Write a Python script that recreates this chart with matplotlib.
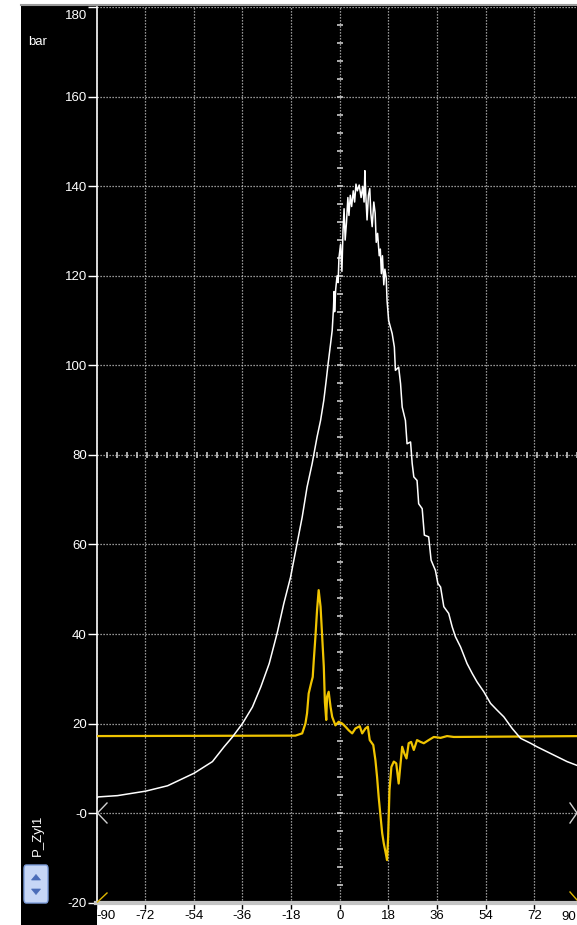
import matplotlib
matplotlib.use('Agg')
import matplotlib.pyplot as plt
import numpy as np
from matplotlib.patches import Rectangle, FancyBboxPatch, Polygon
from matplotlib.lines import Line2D

# ---------------- data ----------------
white_x = [-90, -89.5, -82.2, -71.8, -63.7, -53.9, -47.1, -42.8, -39.7, -36.0, -32.3, -29.2, -26.1,
           -23.2, -20.7, -18.2, -15.8, -13.9, -12.1, -10.2, -8.4, -7.1, -5.9, -5.0, -4.3, -3.4,
           -2.8, -2.3, -2.1, -1.9, -1.5, -1.0, -0.6, -0.3, 0.3, 0.8, 1.2, 1.6, 2.0, 2.5, 3.0, 3.4,
           3.9, 4.4, 5.0, 5.5, 6.0, 6.5, 7.2, 7.9, 8.5, 9.0, 9.3, 9.6, 10.1, 10.6, 11.1, 11.5, 12.0,
           12.6, 13.1, 13.5, 14.0, 14.6, 15.0, 15.4, 15.8, 16.3, 16.7, 17.2, 17.5, 18.1, 19.4, 20.2,
           20.6, 21.8, 22.5, 23.1, 24.3, 24.9, 26.2, 26.8, 27.4, 28.6, 29.2, 30.5, 31.3, 32.9, 33.8,
           35.4, 36.3, 37.3, 38.5, 40.3, 41.6, 42.8, 44.7, 47.1, 49.0, 50.8, 53.3, 55.8, 58.2, 60.7,
           63.8, 66.9, 70.6, 73.0, 76.7, 80.4, 84.1, 88.0]
white_y = [3.1, 3.6, 3.9, 4.9, 6.1, 8.9, 11.5, 14.8, 17.0, 20.0, 23.7, 28.2, 33.4,
           40.1, 46.8, 52.7, 60.2, 66.1, 72.8, 78.1, 84.0, 87.7, 92.2, 96.7, 100.4, 104.8,
           107.8, 113.0, 116.5, 112.0, 117.0, 120.0, 118.5, 124.0, 127.0, 121.0, 130.0, 135.0, 128.0,
           132.0, 137.5, 133.5, 138.0, 135.5, 139.0, 136.5, 140.5, 139.0, 140.3, 137.5, 140.0, 136.5,
           143.5, 138.5, 132.5, 138.0, 139.5, 134.0, 131.0, 136.5, 134.0, 127.5, 129.5, 124.5, 126.0,
           120.5, 124.5, 118.0, 121.5, 119.5, 114.5, 110.0, 107.1, 104.1, 98.9, 99.6, 95.9, 90.7,
           87.7, 82.5, 82.9, 78.1, 75.1, 74.3, 69.1, 68.0, 62.1, 61.7, 56.5, 54.2, 51.3, 50.5, 46.1,
           44.6, 41.6, 39.4, 37.1, 33.4, 31.2, 29.3, 27.1, 24.5, 23.0, 21.5, 18.9, 16.7, 15.6, 14.8,
           13.7, 12.6, 11.5, 10.6]

yellow_x = [-90, -16.4, -13.9, -12.7, -12.1, -11.5, -10.6, -10.0, -9.6, -9.0, -8.4, -7.8, -7.1,
            -6.5, -5.9, -5.5, -5.0, -4.7, -4.1, -3.4, -2.8, -1.6, -0.4, 0.9, 2.1, 3.3, 4.6, 5.8,
            7.4, 8.3, 9.5, 10.4, 11.1, 12.4, 13.2, 13.8, 14.4, 15.1, 15.7, 16.3, 16.9, 17.5, 17.9,
            18.4, 19.1, 20.0, 20.9, 21.8, 22.5, 23.1, 23.9, 24.7, 25.5, 26.4, 27.4, 28.6, 29.9,
            31.1, 32.9, 34.8, 37.3, 39.7, 42.2, 90]
yellow_y = [17.2, 17.3, 17.8, 20.0, 22.3, 26.7, 29.0, 30.4, 34.2, 39.4, 45.3, 49.8, 46.1,
            39.4, 32.7, 24.8, 20.8, 26.0, 27.1, 23.7, 21.5, 19.6, 20.4, 20.0, 19.3, 18.5, 17.8, 18.9,
            19.4, 17.8, 18.9, 19.3, 16.3, 15.2, 11.8, 8.1, 3.6, -0.8, -4.5, -6.8, -8.6, -10.5, -5.3,
            5.1, 10.3, 11.5, 11.1, 6.6, 11.1, 14.8, 13.3, 12.2, 15.6, 15.9, 14.1, 16.3, 15.9,
            15.6, 16.3, 17.0, 16.8, 17.2, 17.0, 17.2]

x_ticks = [-90, -72, -54, -36, -18, 0, 18, 36, 54, 72, 90]
x_labels = ['-90', '-72', '-54', '-36', '-18', '0', '18', '36', '54', '72', '']
y_ticks = [-20, 0, 20, 40, 60, 80, 100, 120, 140, 160, 180]
y_labels = ['-20', '-0', '20', '40', '60', '80', '100', '120', '140', '160', '']

# ---------------- figure ----------------
W, H = 577, 925
FONT = ['Liberation Sans Narrow', 'Liberation Sans', 'DejaVu Sans']
plt.rcParams['font.family'] = FONT

fig = plt.figure(figsize=(W / 100, H / 100), dpi=100, facecolor='white')


def fx(x):
    return x / W


def fy(y):
    return 1 - y / H


# black panel
fig.patches.append(Rectangle((fx(21), 0), 1 - fx(21), fy(5.5), transform=fig.transFigure,
                             facecolor='black', edgecolor='none', zorder=-3))
# white strip under x axis
fig.patches.append(Rectangle((fx(97), 0), 1 - fx(97), fy(903), transform=fig.transFigure,
                             facecolor='white', edgecolor='none', zorder=-2))
fig.add_artist(Line2D([fx(21), 1], [fy(5), fy(5)], color='#9a9a9a', lw=1.5,
                      transform=fig.transFigure))

ax = fig.add_axes([fx(96.5), fy(902.6), (583 - 96.5) / W, (902.6 - 7.3) / H])
ax.set_facecolor('black')
ax.set_xlim(-90, 90)
ax.set_ylim(-20, 180)

for s in ['top', 'right']:
    ax.spines[s].set_visible(False)
ax.spines['left'].set_color('white')
ax.spines['left'].set_linewidth(1.2)
ax.spines['bottom'].set_color('#c4c4c4')
ax.spines['bottom'].set_linewidth(3)

ax.set_xticks(x_ticks)
ax.set_xticklabels(x_labels)
ax.set_yticks(y_ticks)
ax.set_yticklabels(y_labels)
ax.tick_params(axis='y', colors='white', length=6.5, width=1, pad=0.5, labelsize=9.5)
ax.tick_params(axis='x', colors='black', length=4, width=1, pad=1.5, labelsize=9.5)
ax.get_xticklabels()[0].set_ha('left')

ax.grid(True, color='#c4c4c4', linestyle=(0, (1, 1.4)), linewidth=0.9, zorder=1)
ax.set_axisbelow(True)

ax.annotate('180', xy=(0, 180), xycoords=('axes fraction', 'data'), xytext=(-9.5, -8.5),
            textcoords='offset pixels', ha='right', va='center', color='white', fontsize=9.5)
# the "90" label, pulled inside the figure edge
ax.annotate('90', xy=(90, 0), xycoords=('data', 'axes fraction'), xytext=(-6.5, -8),
            textcoords='offset pixels', ha='right', va='top', color='black', fontsize=9.5,
            annotation_clip=False)

# decorative marks on the centre lines
ax.plot(np.zeros(50), np.arange(-20, 180, 4), linestyle='none', marker='_', markersize=5,
        mew=1.2, color='#c8c8c8', zorder=2)
mark_x = np.arange(-86, 90, 3.7)
ax.plot(mark_x, np.full(len(mark_x), 80), linestyle='none',
        marker='|', markersize=5, mew=1.2, color='#c8c8c8', zorder=2)

# curves
ax.plot(yellow_x, yellow_y, color='#f0c400', lw=1.6, zorder=3)
ax.plot(white_x, white_y, color='white', lw=1.1, zorder=4)

# chevrons at zero line
fig.add_artist(Line2D([fx(107), fx(97.5), fx(107)], [fy(803), fy(813), fy(823)],
                      color='#d0d0d0', lw=1, transform=fig.transFigure))
fig.add_artist(Line2D([fx(570), fx(577), fx(570)], [fy(803), fy(813), fy(823)],
                      color='#d0d0d0', lw=1, transform=fig.transFigure))
# yellow corner marks
fig.add_artist(Line2D([fx(97.5), fx(107)], [fy(902), fy(893)], color='#e0b800', lw=1,
                      transform=fig.transFigure))
fig.add_artist(Line2D([fx(570), fx(577)], [fy(892), fy(900)], color='#e0b800', lw=1,
                      transform=fig.transFigure))

# labels on the left
fig.text(fx(28), fy(42), 'bar', color='white', fontsize=9.5, va='center', ha='left')
fig.text(fx(38), fy(835), 'P_Zyl1', color='white', fontsize=9.5, va='center', ha='center',
         rotation=90)

# spinner widget
fig.patches.append(FancyBboxPatch((fx(24), fy(903)), fx(48) - fx(24), fy(865) - fy(903),
                                  boxstyle='round,pad=0,rounding_size=0.004',
                                  transform=fig.transFigure, facecolor='#c6d6f6',
                                  edgecolor='#7f9fdc', lw=1, zorder=2))
fig.add_artist(Polygon([[fx(31.5), fy(880)], [fx(36), fy(874.5)], [fx(40.5), fy(880)]],
                       closed=True, facecolor='#4a6cb8', edgecolor='#4a6cb8', lw=0.5,
                       transform=fig.transFigure, zorder=6))
fig.add_artist(Polygon([[fx(31.5), fy(889)], [fx(36), fy(894.5)], [fx(40.5), fy(889)]],
                       closed=True, facecolor='#4a6cb8', edgecolor='#4a6cb8', lw=0.5,
                       transform=fig.transFigure, zorder=6))

fig.savefig('out.png', dpi=100, facecolor='white')
